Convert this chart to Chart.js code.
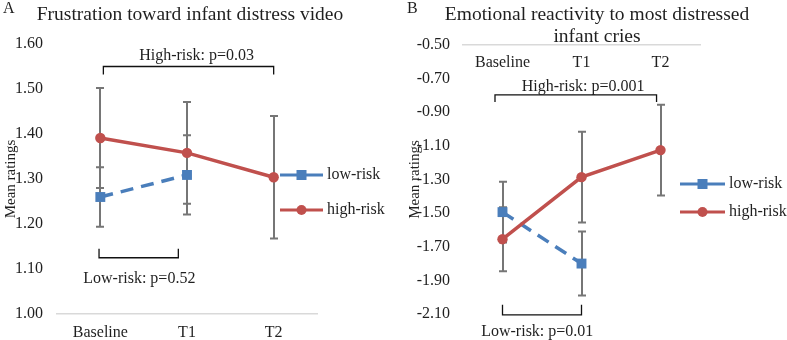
<!DOCTYPE html>
<html>
<head>
<meta charset="utf-8">
<script src="https://cdn.jsdelivr.net/npm/chart.js@4"></script>
<style>
  body { margin: 0; background: #fff; }
  #wrap { position: relative; width: 787px; height: 340px; }
  canvas { position: absolute; top: 0; }
  #chartA { left: 0; }
  #chartB { left: 393px; }
</style>
</head>
<body>
<div id="wrap">
  <canvas id="chartA" width="393" height="340"></canvas>
  <canvas id="chartB" width="394" height="340"></canvas>
</div>
<script>
const categories = ["Baseline", "T1", "T2"];
const seriesNames = ["low-risk", "high-risk"];

// panel A: frustration toward infant distress video
const lowRiskA = [1.26, 1.309, null];
const highRiskA = [1.391, 1.358, 1.304];
const lowRiskErrA = [0.066, 0.088, null];
const highRiskErrA = [0.111, 0.113, 0.136];

// panel B: emotional reactivity to most distressed infant cries
const lowRiskB = [-1.494, -1.80, null];
const highRiskB = [-1.655, -1.286, -1.125];
const lowRiskErrB = [0.18, 0.19, null];
const highRiskErrB = [0.19, 0.27, 0.27];

const BLUE = "#4a7ebb";
const RED = "#c0504d";
const TEXT = "#1f1f1f";
const FONT = '"Liberation Serif", "Times New Roman", serif';

Chart.defaults.font.family = FONT;
Chart.defaults.font.size = 16;
Chart.defaults.color = TEXT;

// error bars, brackets, titles and the legend are drawn here
function makeDecor(cfg) {
  return {
    id: "decor",
    beforeDatasetsDraw(chart) {
      const { ctx, scales: { x, y } } = chart;
      ctx.save();
      ctx.strokeStyle = "#767676";
      ctx.lineWidth = 2;
      cfg.errors.forEach(([values, errs]) => {
        values.forEach((v, i) => {
          if (v == null || errs[i] == null) return;
          const px = Math.round(x.getPixelForValue(i));
          const top = y.getPixelForValue(v + errs[i]);
          const bot = y.getPixelForValue(v - errs[i]);
          ctx.beginPath();
          ctx.moveTo(px, top); ctx.lineTo(px, bot);
          ctx.moveTo(px - 4, top); ctx.lineTo(px + 4, top);
          ctx.moveTo(px - 4, bot); ctx.lineTo(px + 4, bot);
          ctx.stroke();
        });
      });
      ctx.restore();
    },
    afterDraw(chart) {
      const { ctx, scales: { x, y } } = chart;
      ctx.save();
      ctx.fillStyle = TEXT;

      // panel letter + title
      ctx.font = "16px " + FONT;
      ctx.textAlign = "left";
      ctx.textBaseline = "alphabetic";
      ctx.fillText(cfg.letter.text, cfg.letter.x, cfg.letter.y);
      ctx.font = "19.5px " + FONT;
      ctx.textAlign = "center";
      cfg.title.forEach(t => ctx.fillText(t.text, t.x, t.y));

      // significance brackets
      ctx.font = "16px " + FONT;
      ctx.textBaseline = "middle";
      ctx.strokeStyle = "#111";
      ctx.lineWidth = 1.3;
      cfg.brackets.forEach(b => {
        const x1 = x.getPixelForValue(b.x1);
        const x2 = x.getPixelForValue(b.x2);
        const py = y.getPixelForValue(b.y);
        ctx.beginPath();
        ctx.moveTo(x1, py + b.tick); ctx.lineTo(x1, py);
        ctx.lineTo(x2, py); ctx.lineTo(x2, py + b.tick);
        ctx.stroke();
        ctx.fillText(b.text, x.getPixelForValue(b.tx), y.getPixelForValue(b.ty));
      });

      // legend
      ctx.textAlign = "left";
      cfg.legend.forEach((item, i) => {
        const ds = chart.data.datasets[i];
        ctx.strokeStyle = ds.borderColor;
        ctx.fillStyle = ds.borderColor;
        ctx.lineWidth = 3;
        ctx.beginPath();
        ctx.moveTo(item.x1, item.y); ctx.lineTo(item.x2, item.y);
        ctx.stroke();
        const mx = (item.x1 + item.x2) / 2;
        if (ds.pointStyle === "rect") {
          ctx.fillRect(mx - 5, item.y - 5, 10, 10);
        } else {
          ctx.beginPath();
          ctx.arc(mx, item.y, 5, 0, Math.PI * 2);
          ctx.fill();
        }
        ctx.fillStyle = TEXT;
        ctx.fillText(ds.label, item.x2 + 4, item.y);
      });
      ctx.restore();
    }
  };
}

function datasets(low, high) {
  return [
    {
      label: seriesNames[0], data: low, order: 1,
      borderColor: BLUE, backgroundColor: BLUE, borderWidth: 3.5, borderDash: [13, 8],
      pointStyle: "rect", pointRadius: 7, pointBorderWidth: 0, pointBackgroundColor: BLUE
    },
    {
      label: seriesNames[1], data: high, order: 0,
      borderColor: RED, backgroundColor: RED, borderWidth: 3.5,
      pointStyle: "circle", pointRadius: 5.2, pointBorderWidth: 0, pointBackgroundColor: RED
    }
  ];
}

const tickFmt = v => Number(v).toFixed(2);

new Chart(document.getElementById("chartA"), {
  type: "line",
  data: { labels: categories, datasets: datasets(lowRiskA, highRiskA) },
  options: {
    responsive: false,
    animation: false,
    layout: { padding: { left: 2, top: 44, right: 76, bottom: 0 } },
    plugins: { legend: { display: false }, tooltip: { enabled: false } },
    scales: {
      x: {
        offset: true,
        grid: { display: false, drawTicks: false },
        border: { display: true, color: "#d9d9d9", width: 1.5 },
        ticks: { padding: 9.5 },
        afterFit: s => { s.height = 26; }
      },
      y: {
        min: 1.0, max: 1.6,
        grid: { display: false, drawTicks: false },
        border: { display: false },
        ticks: { stepSize: 0.1, padding: 14, callback: tickFmt },
        title: { display: true, text: "Mean ratings", padding: 0, font: { size: 15 } },
        afterFit: s => { s.width = 55; }
      }
    }
  },
  plugins: [makeDecor({
    errors: [[lowRiskA, lowRiskErrA], [highRiskA, highRiskErrA]],
    letter: { text: "A", x: 3, y: 13 },
    title: [{ text: "Frustration toward infant distress video", x: 190, y: 20 }],
    brackets: [
      { x1: 0.035, x2: 2.0, y: 1.55, tick: 8, text: "High-risk: p=0.03", tx: 1.11, ty: 1.574 },
      { x1: -0.015, x2: 0.9, y: 1.125, tick: -9, text: "Low-risk: p=0.52", tx: 0.45, ty: 1.078 }
    ],
    legend: [{ x1: 280, x2: 323, y: 175 }, { x1: 280, x2: 323, y: 210 }]
  })]
});

new Chart(document.getElementById("chartB"), {
  type: "line",
  data: { labels: categories, datasets: datasets(lowRiskB, highRiskB) },
  options: {
    responsive: false,
    animation: false,
    layout: { padding: { left: 13, top: 45, right: 87, bottom: 26 } },
    plugins: { legend: { display: false }, tooltip: { enabled: false } },
    scales: {
      x: {
        position: { y: -0.5 },
        offset: true,
        grid: { display: false, drawTicks: false },
        border: { display: true, color: "#d9d9d9", width: 1.5 },
        ticks: { padding: 8.4 }
      },
      y: {
        min: -2.1, max: -0.5,
        grid: { display: false, drawTicks: false },
        border: { display: false },
        ticks: { stepSize: 0.2, padding: 13, callback: tickFmt },
        title: { display: true, text: "Mean ratings", padding: 0, font: { size: 15 } },
        afterFit: s => { s.width = 57; }
      }
    }
  },
  plugins: [makeDecor({
    errors: [[lowRiskB, lowRiskErrB], [highRiskB, highRiskErrB]],
    letter: { text: "B", x: 14, y: 13 },
    title: [
      { text: "Emotional reactivity to most distressed", x: 204, y: 20 },
      { text: "infant cries", x: 204, y: 41.5 }
    ],
    brackets: [
      { x1: -0.095, x2: 1.95, y: -0.797, tick: 7, text: "High-risk: p=0.001", tx: 1.02, ty: -0.75 },
      { x1: 0.0, x2: 1.0, y: -2.105, tick: -10, text: "Low-risk: p=0.01", tx: 0.44, ty: -2.207 }
    ],
    legend: [{ x1: 287, x2: 332, y: 184 }, { x1: 287, x2: 332, y: 212 }]
  })]
});
</script>
</body>
</html>
